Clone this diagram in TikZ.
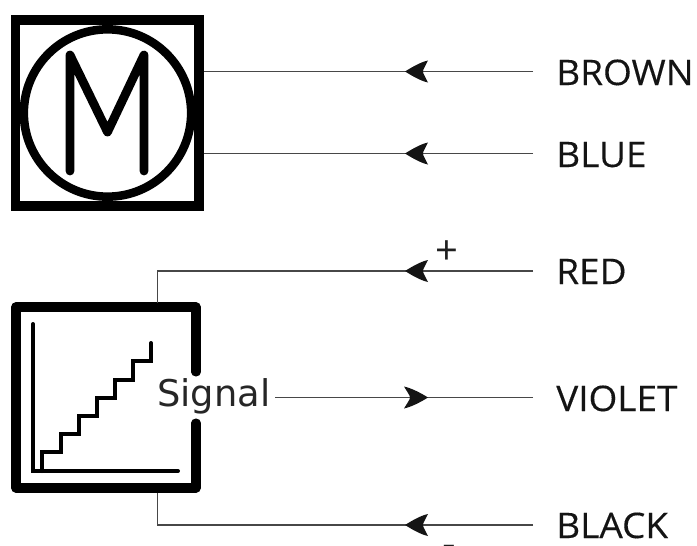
\documentclass[tikz,border=0pt]{standalone}
\usepackage{fontspec}
\setmainfont{Open Sans}
\newfontfamily\labelfont[FakeStretch=1.05,FakeBold=0.25]{Open Sans}
\newfontfamily\sigfont{DejaVu Sans}
\tikzset{
  x=0.75pt,y=-0.75pt,
  heavy/.style={line width=6.8pt,draw=black,line join=round,line cap=round},
  motorframe/.style={line width=7.1pt,draw=black,line join=miter},
  glyphline/.style={line width=6.6pt,draw=black,line join=round,line cap=round},
  plotline/.style={line width=3pt,draw=black,line join=miter,line cap=round},
  wire/.style={line width=1pt,draw=black!72},
  colourlabel/.style={anchor=base west,inner sep=0pt,font=\labelfont\fontsize{26.4pt}{30pt}\selectfont,text=black!92},
  signlabel/.style={anchor=base,inner sep=0pt,text=black!88},
  signaltext/.style={anchor=base west,inner sep=0pt,font=\sigfont\fontsize{27.6pt}{30pt}\selectfont,text=black!85},
  headleft/.pic={\fill[black!92] (0,0) .. controls (8,-5) and (16,-9.5) .. (23,-11) .. controls (20.5,-6) and (18,-2) .. (18,0) .. controls (18,2) and (20.5,6) .. (23,11) .. controls (16,9.5) and (8,5) .. (0,0) -- cycle;},
  headright/.pic={\fill[black!92] (0,0) .. controls (-8,-5) and (-17,-9.5) .. (-24,-11) .. controls (-21,-6) and (-18,-2) .. (-18,0) .. controls (-18,2) and (-21,6) .. (-24,11) .. controls (-17,9.5) and (-8,5) .. (0,0) -- cycle;},
}
\begin{document}
\begin{tikzpicture}
\useasboundingbox (0,0) rectangle (697,546);
% motor symbol
\draw[motorframe] (15.5,20) rectangle (199,206);
\node[circle,draw=black,line width=6.4pt,minimum size=125.5pt,inner sep=0pt] (motor) at (107.5,113) {};
\draw[glyphline] (70,55) -- (70,171) (70,55) -- (107.5,132) -- (144,55) -- (144,171);
% signal symbol
\draw[heavy] (196,372) -- (196,307) -- (16,307) -- (16,488) -- (196,488) -- (196,423);
\draw[plotline] (33,324) -- (33,471) -- (178,471);
\draw[plotline] (42,471) -- (42,452) -- (61,452) -- (61,434) -- (79,434) -- (79,416) -- (97,416) -- (97,398) -- (115,398) -- (115,380) -- (133,380) -- (133,361) -- (151,361) -- (151,343);
% labels
\node[colourlabel] (brown) at (556,85) {BROWN};
\node[colourlabel] (blue) at (556,167) {BLUE};
\node[colourlabel] (red) at (556,284) {RED};
\node[colourlabel] (violet) at (556,411) {VIOLET};
\node[colourlabel] (black) at (556,538) {BLACK};
\node[signlabel,font=\fontsize{30pt}{34pt}\selectfont] (plus) at (446.5,264) {+};
\node[signlabel,font=\fontsize{16pt}{20pt}\selectfont] (minus) at (449,553.3) {\char"2212};
\node[signaltext] (signal) at (157,406.5) {Signal};
% connector ends
\coordinate (b1) at (533,71.5);
\coordinate (m1) at (204,71.5);
\coordinate (b2) at (533,153.5);
\coordinate (m2) at (204,153.5);
\coordinate (r1) at (533,271);
\coordinate (r2) at (157.5,271);
\coordinate (r3) at (157.5,303);
\coordinate (v1) at (533,397.5);
\coordinate (v2) at (275,397.5);
\coordinate (k1) at (533,525);
\coordinate (k2) at (157.5,525);
\coordinate (k3) at (157.5,493);
\draw[wire] (b1) -- (m1);
\draw[wire] (b2) -- (m2);
\draw[wire] (r1) -- (r2) -- (r3);
\draw[wire] (v1) -- (v2);
\draw[wire] (k1) -- (k2) -- (k3);
\pic at (405,71.5) {headleft};
\pic at (405,153.5) {headleft};
\pic at (405,271) {headleft};
\pic at (428,397.5) {headright};
\pic at (405,525) {headleft};
\end{tikzpicture}
\end{document}
